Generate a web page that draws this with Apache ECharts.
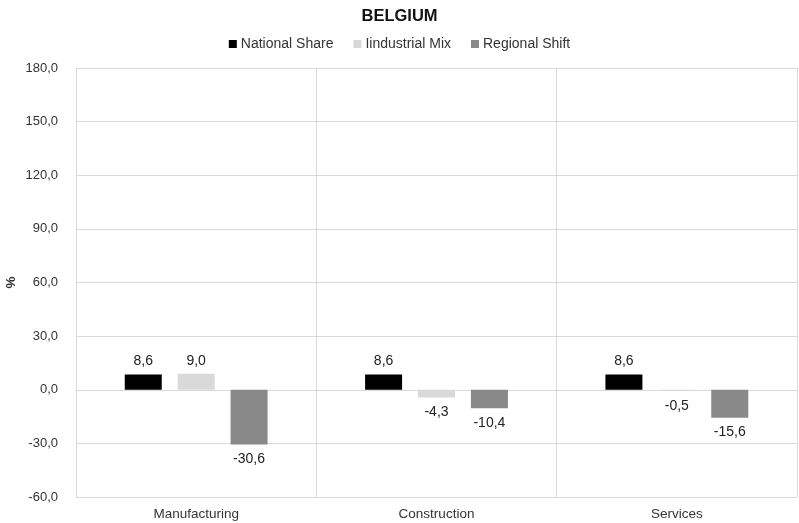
<!DOCTYPE html>
<html>
<head>
<meta charset="utf-8">
<script src="https://cdn.jsdelivr.net/npm/echarts@6/dist/echarts.min.js"></script>
<style>html,body{margin:0;padding:0;background:#fff}#c{width:799px;height:523px}</style>
</head>
<body>
<div id="c"></div>
<script>
const categories = ['Manufacturing', 'Construction', 'Services'];
const nationalShare = [8.6, 8.6, 8.6];
const industrialMix = [9.0, -4.3, -0.5];
const regionalShift = [-30.6, -10.4, -15.6];
const seriesNames = ['National Share', 'Iindustrial Mix', 'Regional Shift'];
const yMin = -60, yMax = 180, yStep = 30;

const fmt = v => v.toFixed(1).replace('.', ',');
const font = 'Liberation Sans, Arial, sans-serif';
const colors = ['#000000', '#d9d9d9', '#898989'];

const chart = echarts.init(document.getElementById('c'));
function mk(name, data, color) {
  return {
    name: name,
    type: 'bar',
    data: data.map(v => ({ value: v, label: { distance: v < 0 ? 8 : 6 } })),
    barWidth: 37,
    barGap: '43%',
    itemStyle: { color: color },
    label: {
      show: true,
      position: 'outside',
      formatter: p => fmt(p.value),
      color: '#222',
      fontFamily: font,
      fontSize: 14
    }
  };
}
chart.setOption({
  animation: false,
  textStyle: { fontFamily: font },
  title: {
    text: 'BELGIUM',
    left: 'center',
    top: 3,
    textStyle: { fontFamily: font, fontSize: 16.5, fontWeight: 'bold', color: '#111' }
  },
  legend: {
    data: seriesNames,
    top: 32,
    left: 'center',
    itemWidth: 8,
    itemHeight: 8,
    itemGap: 20,
    icon: 'rect',
    textStyle: { fontFamily: font, fontSize: 14, color: '#333', padding: [0, 0, 0, -1] }
  },
  grid: { left: 76, right: 2, top: 68, bottom: 26, containLabel: false, outerBoundsMode: 'none' },
  xAxis: {
    type: 'category',
    data: categories,
    axisLine: { show: true, lineStyle: { color: '#d9d9d9' } },
    axisTick: { show: false },
    splitLine: { show: true, lineStyle: { color: '#d9d9d9' } },
    axisLabel: { color: '#333', fontFamily: font, fontSize: 13.5, margin: 10 }
  },
  yAxis: {
    type: 'value',
    min: yMin,
    max: yMax,
    interval: yStep,
    name: '%',
    nameLocation: 'middle',
    nameGap: 58,
    nameMoveOverlap: false,
    nameRotate: 90,
    nameTextStyle: { fontFamily: font, fontSize: 13.5, fontWeight: 'bold', color: '#333' },
    axisLine: { show: true, lineStyle: { color: '#d9d9d9' } },
    axisTick: { show: false },
    splitLine: { show: true, lineStyle: { color: '#d9d9d9' } },
    axisLabel: { color: '#333', fontFamily: font, fontSize: 13, margin: 18, formatter: v => fmt(v) }
  },
  series: [
    mk(seriesNames[0], nationalShare, colors[0]),
    mk(seriesNames[1], industrialMix, colors[1]),
    mk(seriesNames[2], regionalShift, colors[2])
  ]
});
</script>
</body>
</html>
